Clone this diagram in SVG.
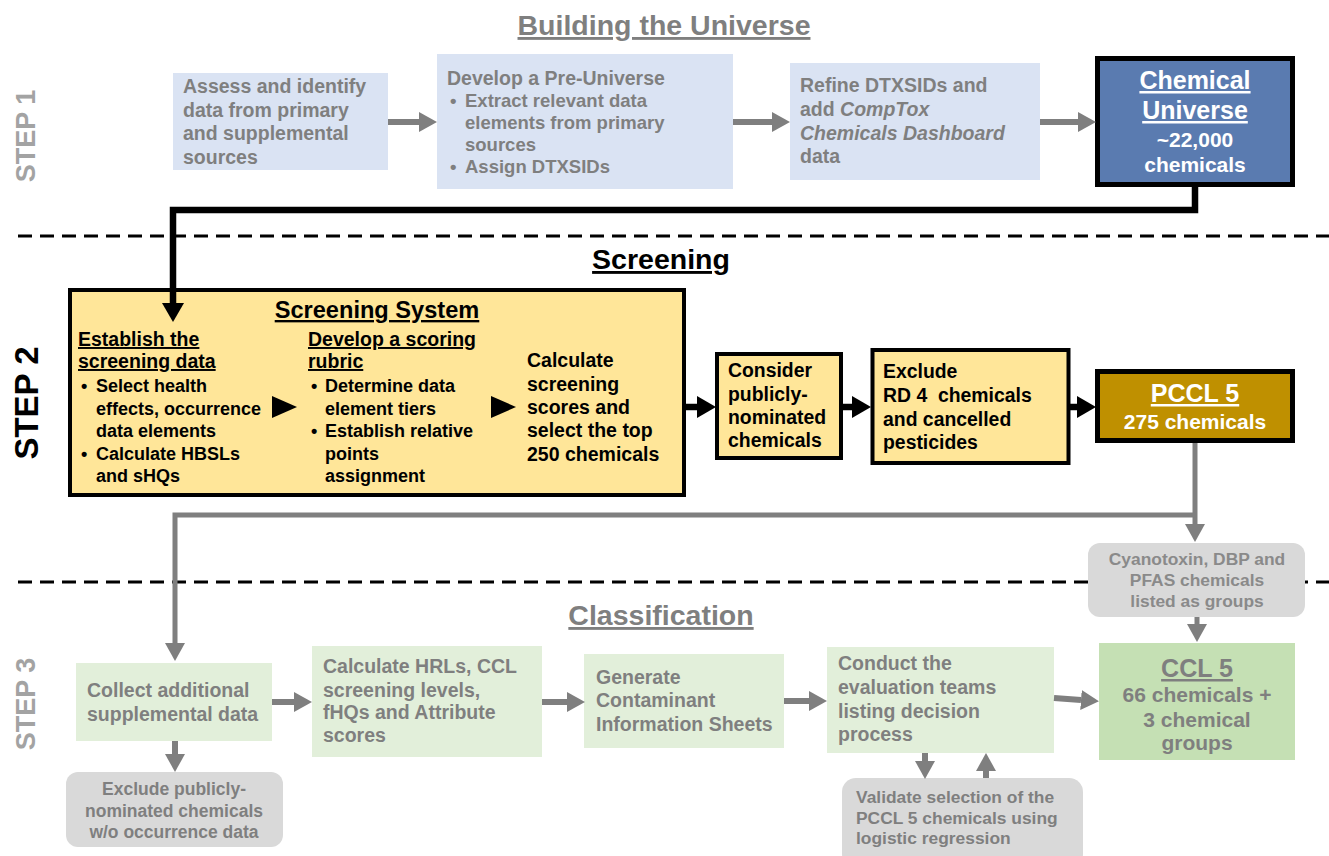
<svg xmlns="http://www.w3.org/2000/svg" width="1329" height="856" viewBox="0 0 1329 856">
  <style>
    text { font-family: "Liberation Sans", Arial, sans-serif; font-weight: bold; }
    .gt { fill: #7f7f7f; }
    .kt { fill: #000; }
    .wt { fill: #fff; }
    .u { text-decoration: underline; }
    .it { font-style: italic; }
    .title { font-size: 28.5px; text-anchor: middle; }
    .step { font-size: 27px; text-anchor: middle; fill: #a3a3a3; }
    .blue { fill: #dae3f3; }
    .yel { fill: #ffe699; stroke: #000; stroke-width: 4; }
    .lg { fill: #e2efda; }
    .gb { fill: #d9d9d9; }
    .gline { fill: none; stroke: #7f7f7f; stroke-width: 6; }
    .gline5 { fill: none; stroke: #7f7f7f; stroke-width: 5; }
    .kline { fill: none; stroke: #000; stroke-width: 6.5; stroke-linejoin: miter; }
    .dash { stroke: #000; stroke-width: 2.8; stroke-dasharray: 14 8; }
    .mid { text-anchor: middle; }
    .colhead { font-size: 19.5px; }
  </style>
  <defs>
    <marker id="headG" viewBox="0 0 18 20" markerWidth="18" markerHeight="20" refX="0" refY="10" orient="auto" markerUnits="userSpaceOnUse">
      <path d="M0,0 L18,10 L0,20 z" fill="#7f7f7f"/>
    </marker>
    <marker id="headK" viewBox="0 0 19 22" markerWidth="19" markerHeight="22" refX="0" refY="11" orient="auto" markerUnits="userSpaceOnUse">
      <path d="M0,0 L19,11 L0,22 z" fill="#000"/>
    </marker>
  </defs>

  <rect width="1329" height="856" fill="#fff"/>

  <!-- section dividers -->
  <line class="dash" x1="18" y1="236" x2="1329" y2="236"/>
  <line class="dash" x1="18" y1="582" x2="1329" y2="582"/>

  <!-- section titles -->
  <text class="title gt u" x="664" y="35">Building the Universe</text>
  <text class="title kt u" x="661" y="269">Screening</text>
  <text class="title gt u" x="661" y="625">Classification</text>

  <!-- step labels -->
  <text class="step" transform="translate(35,136) rotate(-90)">STEP 1</text>
  <text class="step" style="font-size:33px;fill:#000" transform="translate(38,403) rotate(-90)">STEP 2</text>
  <text class="step" transform="translate(35,704) rotate(-90)">STEP 3</text>

  <!-- STEP 1 nodes -->
  <g id="assess">
    <rect class="blue" x="173" y="73" width="215" height="97"/>
    <text class="gt" x="183" y="93" font-size="19.5">Assess and identify</text>
    <text class="gt" x="183" y="117" font-size="19.5">data from primary</text>
    <text class="gt" x="183" y="140" font-size="19.5">and supplemental</text>
    <text class="gt" x="183" y="164" font-size="19.5">sources</text>
  </g>

  <g id="pre-universe">
    <rect class="blue" x="437" y="54" width="296" height="135"/>
    <text class="gt" x="447" y="85" font-size="19.5">Develop a Pre-Universe</text>
    <g font-size="18.5">
      <text class="gt" x="450" y="107">•</text>
      <text class="gt" x="465" y="107">Extract relevant data</text>
      <text class="gt" x="465" y="129">elements from primary</text>
      <text class="gt" x="465" y="151">sources</text>
      <text class="gt" x="450" y="173">•</text>
      <text class="gt" x="465" y="173">Assign DTXSIDs</text>
    </g>
  </g>

  <g id="refine">
    <rect class="blue" x="790" y="63" width="250" height="117"/>
    <text class="gt" x="800" y="92" font-size="19.5">Refine DTXSIDs and</text>
    <text class="gt" x="800" y="116" font-size="19.5">add <tspan class="it">CompTox</tspan></text>
    <text class="gt it" x="800" y="140" font-size="19.5">Chemicals Dashboard</text>
    <text class="gt" x="800" y="163" font-size="19.5">data</text>
  </g>

  <g id="chemical-universe">
    <rect x="1097.5" y="58.5" width="195" height="126" fill="#5a7bb0" stroke="#000" stroke-width="5"/>
    <text class="wt u mid" x="1195" y="89" font-size="25">Chemical</text>
    <text class="wt u mid" x="1195" y="119" font-size="25">Universe</text>
    <text class="wt mid" x="1195" y="147" font-size="21">~22,000</text>
    <text class="wt mid" x="1195" y="172" font-size="21">chemicals</text>
  </g>

  <!-- STEP 2 nodes -->
  <g id="screening-system">
    <rect class="yel" x="70" y="290" width="614" height="205"/>
    <text class="kt u mid" x="377" y="318" font-size="23.6">Screening System</text>
    <text class="kt u colhead" x="78" y="346">Establish the</text>
    <text class="kt u colhead" x="78" y="368">screening data</text>
    <text class="kt u colhead" x="308" y="346">Develop a scoring</text>
    <text class="kt u colhead" x="308" y="368">rubric</text>
    <g font-size="18">
      <text class="kt" x="81" y="392">•</text>
      <text class="kt" x="96" y="392">Select health</text>
      <text class="kt" x="96" y="415">effects, occurrence</text>
      <text class="kt" x="96" y="437">data elements</text>
      <text class="kt" x="81" y="460">•</text>
      <text class="kt" x="96" y="460">Calculate HBSLs</text>
      <text class="kt" x="96" y="482">and sHQs</text>

      <text class="kt" x="311" y="392">•</text>
      <text class="kt" x="325" y="392">Determine data</text>
      <text class="kt" x="325" y="415">element tiers</text>
      <text class="kt" x="311" y="437">•</text>
      <text class="kt" x="325" y="437">Establish relative</text>
      <text class="kt" x="325" y="460">points</text>
      <text class="kt" x="325" y="482">assignment</text>
    </g>
    <path d="M272,396 L297,407 L272,418 z" fill="#000"/>
    <path d="M491,396 L516,407 L491,418 z" fill="#000"/>
    <g font-size="19.5">
      <text class="kt" x="527" y="367">Calculate</text>
      <text class="kt" x="527" y="391">screening</text>
      <text class="kt" x="527" y="414">scores and</text>
      <text class="kt" x="527" y="437">select the top</text>
      <text class="kt" x="527" y="461">250 chemicals</text>
    </g>
  </g>

  <g id="consider">
    <rect class="yel" x="717" y="354" width="124" height="104" stroke-width="3.5"/>
    <text class="kt" x="728" y="377" font-size="19.4">Consider</text>
    <text class="kt" x="728" y="401" font-size="19.4">publicly-</text>
    <text class="kt" x="728" y="424" font-size="19.4">nominated</text>
    <text class="kt" x="728" y="447" font-size="19.4">chemicals</text>
  </g>

  <g id="exclude-rd4">
    <rect class="yel" x="872.5" y="350" width="196" height="113" stroke-width="3.5"/>
    <text class="kt" x="883" y="378" font-size="19.4">Exclude</text>
    <text class="kt" x="883" y="402" font-size="19.4" xml:space="preserve">RD 4  chemicals</text>
    <text class="kt" x="883" y="426" font-size="19.4">and cancelled</text>
    <text class="kt" x="883" y="449" font-size="19.4">pesticides</text>
  </g>

  <g id="pccl5">
    <rect x="1097.5" y="371.5" width="195" height="69" fill="#bf9000" stroke="#000" stroke-width="5"/>
    <text class="wt u mid" x="1195" y="402" font-size="25">PCCL 5</text>
    <text class="wt mid" x="1195" y="429" font-size="21">275 chemicals</text>
  </g>

  <g id="groups">
    <rect class="gb" x="1088" y="543" width="217" height="74" rx="12"/>
    <text class="mid" fill="#8a8a8a" x="1197" y="565" font-size="17.4">Cyanotoxin, DBP and</text>
    <text class="mid" fill="#8a8a8a" x="1197" y="586" font-size="17.4">PFAS chemicals</text>
    <text class="mid" fill="#8a8a8a" x="1197" y="607" font-size="17.4">listed as groups</text>
  </g>

  <!-- STEP 3 nodes -->
  <g id="collect">
    <rect class="lg" x="76" y="663" width="196" height="78"/>
    <text class="gt" x="87" y="697" font-size="19.5">Collect additional</text>
    <text class="gt" x="87" y="721" font-size="19.5">supplemental data</text>
  </g>

  <g id="exclude-nominated">
    <rect class="gb" x="66" y="772" width="217" height="75" rx="12"/>
    <text class="gt mid" x="174" y="795" font-size="17.5">Exclude publicly-</text>
    <text class="gt mid" x="174" y="817" font-size="17.5">nominated chemicals</text>
    <text class="gt mid" x="174" y="838" font-size="17.5">w/o occurrence data</text>
  </g>

  <g id="calculate">
    <rect class="lg" x="312" y="646" width="230" height="111"/>
    <text class="gt" x="323" y="673" font-size="19.5">Calculate HRLs, CCL</text>
    <text class="gt" x="323" y="697" font-size="19.5">screening levels,</text>
    <text class="gt" x="323" y="719" font-size="19.5">fHQs and Attribute</text>
    <text class="gt" x="323" y="742" font-size="19.5">scores</text>
  </g>

  <g id="generate">
    <rect class="lg" x="584" y="654" width="200" height="94"/>
    <text class="gt" x="596" y="684" font-size="19.5">Generate</text>
    <text class="gt" x="596" y="707" font-size="19.5">Contaminant</text>
    <text class="gt" x="596" y="731" font-size="19.5">Information Sheets</text>
  </g>

  <g id="conduct">
    <rect class="lg" x="827" y="647" width="227" height="106"/>
    <text class="gt" x="838" y="670" font-size="19.5">Conduct the</text>
    <text class="gt" x="838" y="694" font-size="19.5">evaluation teams</text>
    <text class="gt" x="838" y="718" font-size="19.5">listing decision</text>
    <text class="gt" x="838" y="741" font-size="19.5">process</text>
  </g>

  <g id="validate">
    <rect class="gb" x="842" y="778" width="241" height="90" rx="14"/>
    <text class="gt" x="856" y="803" font-size="17.4">Validate selection of the</text>
    <text class="gt" x="856" y="824" font-size="17.4">PCCL 5 chemicals using</text>
    <text class="gt" x="856" y="844" font-size="17.4">logistic regression</text>
  </g>

  <g id="ccl5">
    <rect x="1099" y="643" width="196" height="117" fill="#c5e0b4"/>
    <text class="gt u mid" x="1197" y="677" font-size="25">CCL 5</text>
    <text class="gt mid" x="1197" y="702" font-size="21">66 chemicals +</text>
    <text class="gt mid" x="1197" y="727" font-size="21">3 chemical</text>
    <text class="gt mid" x="1197" y="750" font-size="21">groups</text>
  </g>

  <!-- connectors, drawn last so heads sit on top of box edges -->
  <g id="connectors">
    <!-- step 1 -->
    <line class="gline" x1="388" y1="122" x2="419" y2="122" marker-end="url(#headG)"/>
    <line class="gline" x1="733" y1="122" x2="772" y2="122" marker-end="url(#headG)"/>
    <line class="gline" x1="1040" y1="122" x2="1078" y2="122" marker-end="url(#headG)"/>
    <!-- universe down to screening -->
    <polyline class="kline" points="1195,186 1195,210 173,210 173,303" marker-end="url(#headK)"/>
    <!-- step 2 -->
    <line class="kline" x1="686" y1="407" x2="697" y2="407" marker-end="url(#headK)"/>
    <line class="kline" x1="841" y1="407" x2="852" y2="407" marker-end="url(#headK)"/>
    <line class="kline" x1="1069" y1="407" x2="1077" y2="407" marker-end="url(#headK)"/>
    <!-- PCCL 5 outputs -->
    <polyline class="gline5" points="1195,443 1195,524" marker-end="url(#headG)"/>
    <polyline class="gline5" points="1195,515 175,515 175,643" marker-end="url(#headG)"/>
    <line class="gline5" x1="1197" y1="617" x2="1197" y2="624" marker-end="url(#headG)"/>
    <!-- step 3 -->
    <line class="gline" x1="175" y1="741" x2="175" y2="754" marker-end="url(#headG)"/>
    <line class="gline" x1="272" y1="702" x2="294" y2="702" marker-end="url(#headG)"/>
    <line class="gline" x1="542" y1="702" x2="567" y2="702" marker-end="url(#headG)"/>
    <line class="gline" x1="784" y1="701" x2="809" y2="701" marker-end="url(#headG)"/>
    <line class="gline" x1="1054" y1="698" x2="1081" y2="700" marker-end="url(#headG)"/>
    <line class="gline" x1="925" y1="753" x2="925" y2="761" marker-end="url(#headG)"/>
    <line class="gline" x1="986" y1="778" x2="986" y2="771" marker-end="url(#headG)"/>
  </g>
</svg>
